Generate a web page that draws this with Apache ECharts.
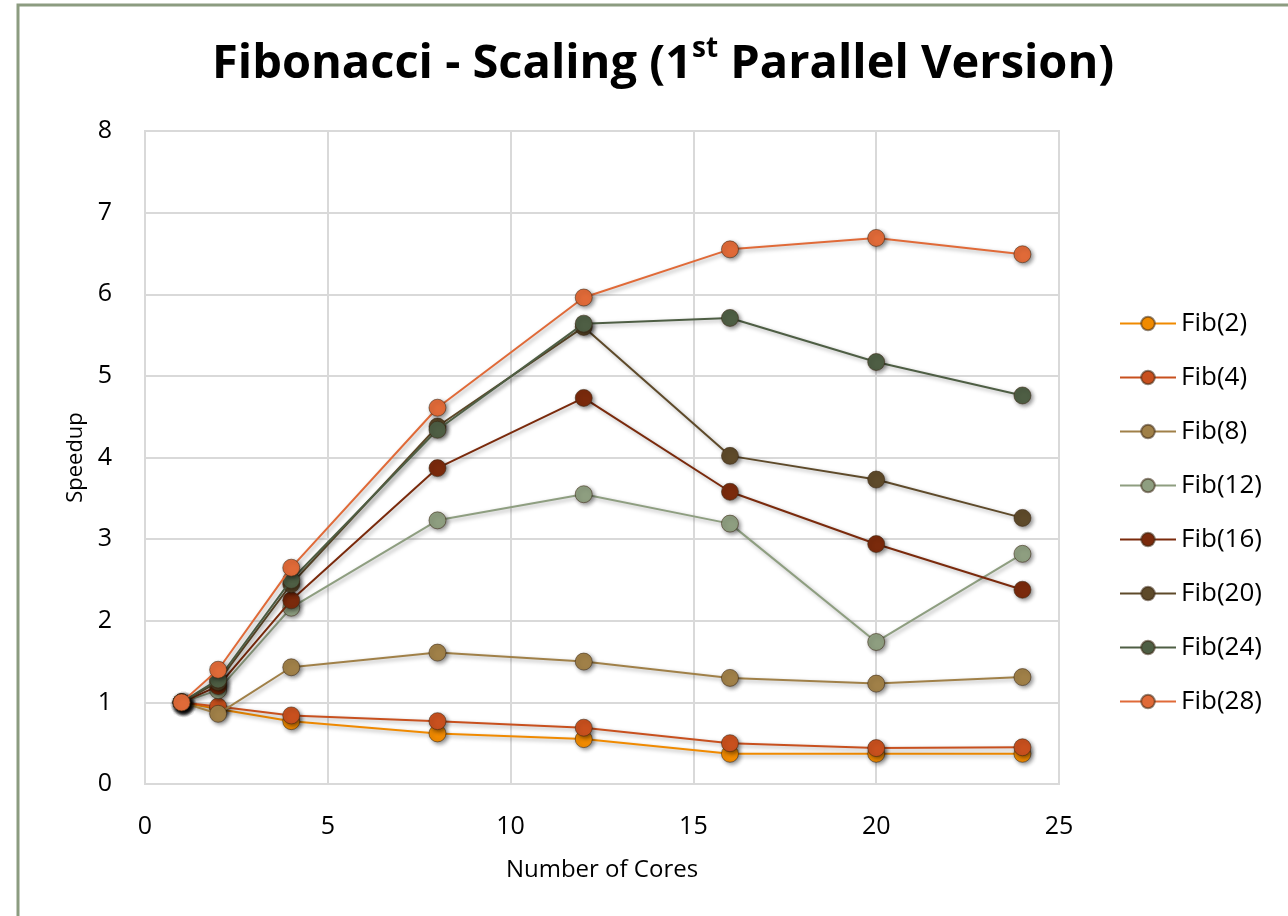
<!DOCTYPE html>
<html>
<head>
<meta charset="utf-8">
<script src="https://cdn.jsdelivr.net/npm/echarts@6/dist/echarts.min.js"></script>
<style>
  html, body { margin: 0; padding: 0; background: #fff; }
  #chart { width: 1288px; height: 916px; }
</style>
</head>
<body>
<div id="chart"></div>
<script>
// cores on the x axis
var cores = [1, 2, 4, 8, 12, 16, 20, 24];

// speedup per problem size
var fib2  = [1, 0.92, 0.77, 0.62, 0.55, 0.37, 0.37, 0.37];
var fib4  = [1, 0.95, 0.84, 0.77, 0.69, 0.50, 0.44, 0.45];
var fib8  = [1, 0.86, 1.43, 1.61, 1.50, 1.30, 1.23, 1.31];
var fib12 = [1, 1.15, 2.16, 3.23, 3.55, 3.19, 1.74, 2.82];
var fib16 = [1, 1.20, 2.25, 3.87, 4.73, 3.58, 2.94, 2.38];
var fib20 = [1, 1.25, 2.45, 4.38, 5.60, 4.02, 3.73, 3.26];
var fib24 = [1, 1.28, 2.50, 4.34, 5.64, 5.71, 5.17, 4.76];
var fib28 = [1, 1.40, 2.65, 4.61, 5.96, 6.55, 6.69, 6.49];

var names = ['Fib(2)', 'Fib(4)', 'Fib(8)', 'Fib(12)', 'Fib(16)', 'Fib(20)', 'Fib(24)', 'Fib(28)'];
var values = [fib2, fib4, fib8, fib12, fib16, fib20, fib24, fib28];
var colors = ['#f08a00', '#c8501e', '#a08048', '#8e9e80', '#7a2a0c', '#5e4a2a', '#4e5e44', '#e06a38'];

var font = 'Open Sans';

var series = names.map(function (name, i) {
  return {
    name: name,
    type: 'line',
    data: cores.map(function (c, j) { return [c, values[i][j]]; }),
    symbol: 'circle',
    symbolSize: 17,
    z: 2 + i,
    lineStyle: {
      width: 2,
      color: colors[i],
      shadowBlur: 4,
      shadowColor: 'rgba(0,0,0,0.35)',
      shadowOffsetX: 2,
      shadowOffsetY: 2
    },
    itemStyle: {
      color: colors[i],
      borderColor: 'rgba(60,40,20,0.55)',
      borderWidth: 1,
      shadowBlur: 4,
      shadowColor: 'rgba(0,0,0,0.45)',
      shadowOffsetX: 2,
      shadowOffsetY: 2
    },
    emphasis: { disabled: true },
    animation: false
  };
});

var chart = echarts.init(document.getElementById('chart'));
chart.setOption({
  backgroundColor: '#fff',
  textStyle: { fontFamily: font },
  graphic: [{
    type: 'rect',
    shape: { x: 18, y: 5, width: 1400, height: 1000 },
    style: { fill: 'none', stroke: '#8c9c80', lineWidth: 3 },
    silent: true
  }],
  title: {
    text: '{a|Fibonacci - Scaling (1}{s|st}{a| Parallel Version)}',
    left: 207,
    top: 30,
    textStyle: {
      rich: {
        a: { fontFamily: font, fontSize: 47, fontWeight: 'bold', color: '#000', lineHeight: 60 },
        s: { fontFamily: font, fontSize: 28, fontWeight: 'bold', color: '#000', verticalAlign: 'top', lineHeight: 38, padding: [0, 0, 22, 0] }
      }
    }
  },
  legend: {
    orient: 'vertical',
    left: 1114,
    top: 302,
    itemWidth: 56,
    itemHeight: 17,
    itemGap: 21,
    data: names,
    textStyle: { fontFamily: font, fontSize: 26, color: '#000', lineHeight: 33 }
  },
  grid: {
    left: 145,
    top: 131,
    width: 914,
    height: 653,
    show: true,
    borderColor: '#d9d9d9',
    borderWidth: 2
  },
  xAxis: {
    type: 'value',
    min: 0,
    max: 25,
    interval: 5,
    name: 'Number of Cores',
    nameLocation: 'middle',
    nameGap: 74,
    nameTextStyle: { fontSize: 24, color: '#000', fontFamily: font },
    axisLine: { show: false },
    axisTick: { show: false },
    axisLabel: { fontSize: 25, color: '#000', margin: 30, fontFamily: font },
    splitLine: { lineStyle: { color: '#d9d9d9', width: 2 } }
  },
  yAxis: {
    type: 'value',
    min: 0,
    max: 8,
    interval: 1,
    name: 'Speedup',
    nameLocation: 'middle',
    nameRotate: 90,
    nameGap: 58,
    nameTextStyle: { fontSize: 22, color: '#000', fontFamily: font },
    axisLine: { show: false },
    axisTick: { show: false },
    axisLabel: { fontSize: 25, color: '#000', margin: 33, fontFamily: font },
    splitLine: { lineStyle: { color: '#d9d9d9', width: 2 } }
  },
  series: series
});
</script>
</body>
</html>
